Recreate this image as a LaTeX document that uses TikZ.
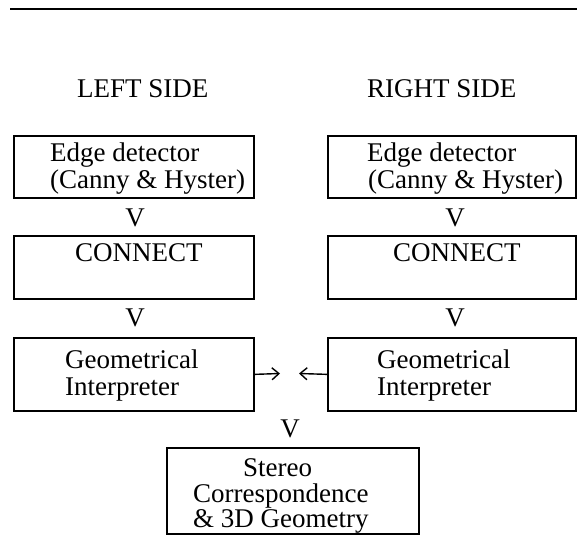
\documentclass[tikz,border=0pt]{standalone}
\usepackage{fontspec}
\setmainfont{Liberation Serif}
\usetikzlibrary{arrows.meta}
\begin{document}
\begin{tikzpicture}[x=1pt,y=-1pt,
  box/.style={draw, line width=1.7pt, rectangle, inner sep=0pt, anchor=north west},
  txt/.style={font=\fontsize{27}{27}\selectfont, inner sep=0pt, anchor=base west},
  vmark/.style={font=\fontsize{27}{27}\selectfont, inner sep=0pt, anchor=base},
  arr/.style={line width=1.4pt, -{Straight Barb[length=7pt,width=12pt,line width=1.4pt]}},
  rule/.style={line width=2.4pt}]
\useasboundingbox (0,0) rectangle (577,535);
% top rule
\coordinate (r0) at (10,9);
\coordinate (r1) at (577,9);
\draw[rule] (r0) -- (r1);
% headings
\node[txt] (hl) at (77,97) {LEFT SIDE};
\node[txt] (hr) at (367,97) {RIGHT SIDE};
% boxes
\node[box, minimum width=240pt, minimum height=62pt] (e1l) at (13,135) {};
\node[box, minimum width=248pt, minimum height=62pt] (e1r) at (327,135) {};
\node[box, minimum width=240pt, minimum height=63pt] (e2l) at (13,235) {};
\node[box, minimum width=248pt, minimum height=63pt] (e2r) at (327,235) {};
\node[box, minimum width=240pt, minimum height=73pt] (e3l) at (13,337) {};
\node[box, minimum width=248pt, minimum height=73pt] (e3r) at (327,337) {};
\node[box, minimum width=252pt, minimum height=86pt] (e4) at (166,447) {};
% texts
\node[txt] (t1la) at (50,161) {Edge detector};
\node[txt] (t1lb) at (50,188) {(Canny \& Hyster)};
\node[txt] (t1ra) at (367,161) {Edge detector};
\node[txt] (t1rb) at (368,188) {(Canny \& Hyster)};
\node[txt] (t2l) at (75,261) {CONNECT};
\node[txt] (t2r) at (393,261) {CONNECT};
\node[txt] (t3la) at (65,368) {Geometrical};
\node[txt] (t3lb) at (65,395) {Interpreter};
\node[txt] (t3ra) at (377,368) {Geometrical};
\node[txt] (t3rb) at (377,395) {Interpreter};
\node[txt] (t4a) at (243,476) {Stereo};
\node[txt] (t4b) at (193,502) {Correspondence};
\node[txt] (t4c) at (193,527) {\& 3D Geometry};
% V marks
\node[vmark] (v1l) at (135,226) {V};
\node[vmark] (v1r) at (455,226) {V};
\node[vmark] (v2l) at (135,326) {V};
\node[vmark] (v2r) at (455,326) {V};
\node[vmark] (v3) at (290,437) {V};
% arrows
\coordinate (al) at (280,373.5);
\coordinate (ar) at (299,373.5);
\draw[arr] (e3l.east) -- (al);
\draw[arr] (e3r.west) -- (ar);
\end{tikzpicture}
\end{document}
